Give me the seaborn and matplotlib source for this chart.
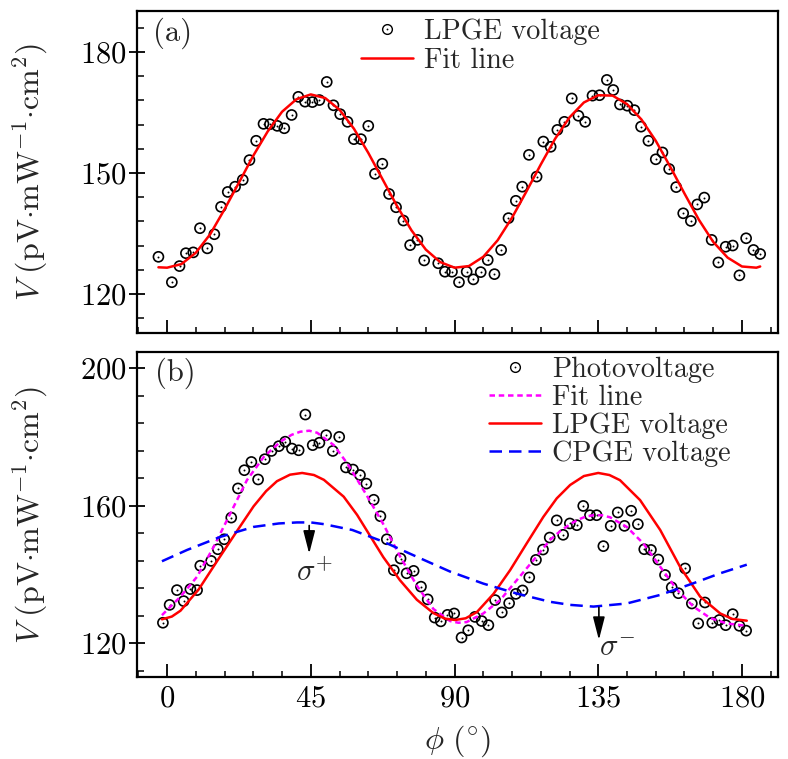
import matplotlib
matplotlib.use('Agg')
import matplotlib.pyplot as plt
from matplotlib.lines import Line2D
from matplotlib.ticker import MultipleLocator
import seaborn as sns

# ---- (a) LPGE voltage: measured points and fit line ----
lp_phi = [-2.7, 1.5, 3.9, 5.9, 8.2, 10.3, 12.6, 14.8, 16.9, 19.0,
          21.3, 23.7, 25.8, 27.9, 30.2, 32.2, 34.5, 36.7, 39.0, 41.1,
          43.2, 45.5, 47.7, 50.0, 52.1, 54.2, 56.5, 58.5, 60.7, 63.0,
          65.1, 67.4, 69.5, 71.7, 74.0, 76.1, 78.4, 80.5, 84.9, 87.0,
          89.2, 91.4, 93.8, 95.9, 98.2, 100.4, 102.5, 104.6, 106.9, 109.2,
          111.2, 113.3, 115.7, 117.8, 120.1, 122.2, 124.4, 126.7, 128.8, 130.9,
          133.2, 135.4, 137.7, 139.7, 141.8, 144.1, 146.3, 148.4, 150.7, 153.0,
          155.1, 157.2, 159.4, 161.6, 164.0, 166.0, 168.2, 170.5, 172.6, 174.9,
          177.1, 179.2, 181.3, 183.6, 185.7]
lp_v = [129.2, 122.9, 126.9, 130.1, 130.3, 136.3, 131.3, 134.8, 141.6, 145.3,
        146.6, 148.3, 153.2, 158.0, 162.2, 162.1, 161.7, 161.1, 164.4, 168.9,
        167.7, 167.6, 168.1, 172.6, 166.8, 164.6, 162.7, 158.4, 158.4, 161.7,
        149.8, 152.3, 144.8, 141.5, 138.2, 132.1, 133.4, 128.3, 127.6, 125.5,
        125.5, 122.9, 125.5, 123.6, 125.4, 128.4, 124.9, 130.9, 138.8, 143.1,
        146.6, 154.5, 149.1, 157.8, 156.5, 160.7, 162.7, 168.5, 164.2, 162.7,
        169.2, 169.3, 173.1, 170.6, 167.0, 166.7, 165.6, 161.5, 158.0, 153.4,
        155.1, 151.0, 146.5, 140.0, 138.1, 142.2, 143.9, 133.4, 127.8, 131.7,
        132.0, 124.6, 133.8, 130.9, 129.9]

lp_fit_phi = [-2.7, 0, 4.5, 9, 13.5, 18, 22.5, 27, 31.5, 36, 40.5, 45,
              49.5, 54, 58.5, 63, 67.5, 72, 76.5, 81, 85.5, 90,
              94.5, 99, 103.5, 108, 112.5, 117, 121.5, 126, 130.5, 135,
              139.5, 144, 148.5, 153, 157.5, 162, 166.5, 171, 175.5, 180,
              184.5, 185.7]
lp_fit_v = [126.6, 126.5, 127.4, 130.2, 134.8, 141.0, 147.6, 154.3, 160.3, 165.2, 168.3, 169.5,
            168.6, 165.7, 161.0, 155.0, 148.4, 141.8, 135.8, 131.0, 127.9, 126.5,
            126.9, 129.2, 133.3, 138.9, 145.4, 152.1, 158.5, 163.8, 167.5, 169.3,
            169.2, 167.1, 163.3, 158.0, 151.6, 144.9, 138.4, 132.9, 129.0, 126.8,
            126.5, 126.8]

# ---- (b) photovoltage with fit and its two components ----
pv_phi = [-1.3, 0.8, 3.1, 5.2, 7.3, 9.4, 10.4, 13.8, 15.9, 17.9,
          20.1, 22.2, 24.2, 26.4, 28.5, 30.6, 32.7, 35.0, 37.0, 39.1,
          41.2, 43.3, 45.6, 47.7, 49.8, 51.9, 53.9, 56.0, 58.2, 60.4,
          62.4, 64.7, 66.8, 68.8, 71.0, 73.1, 75.0, 77.2, 79.5, 81.6,
          83.8, 85.7, 87.8, 89.9, 92.2, 94.3, 96.4, 98.5, 100.6, 102.7,
          104.8, 107.1, 109.2, 111.3, 113.4, 115.5, 117.7, 119.8, 122.0, 124.0,
          126.1, 128.3, 130.3, 132.4, 134.5, 136.6, 138.9, 141.1, 143.2, 145.3,
          147.4, 149.4, 151.5, 153.8, 155.9, 158.0, 160.1, 162.2, 164.3, 166.3,
          168.4, 170.7, 172.9, 174.9, 177.1, 179.2, 181.3]
pv_v = [125.9, 131.1, 135.4, 132.2, 135.7, 135.4, 142.5, 143.9, 147.3, 150.2,
        156.5, 165.0, 170.3, 172.7, 167.6, 173.5, 175.9, 177.3, 178.6, 176.6,
        176.1, 186.5, 177.6, 178.3, 180.5, 175.9, 180.0, 171.1, 170.5, 168.9,
        166.4, 161.7, 156.9, 150.2, 141.2, 144.6, 140.3, 141.0, 136.4, 132.7,
        127.4, 126.3, 128.2, 128.6, 121.6, 123.7, 127.6, 126.4, 125.2, 132.5,
        128.9, 131.6, 134.3, 135.3, 139.1, 144.2, 147.2, 150.7, 155.7, 151.5,
        154.8, 154.3, 159.9, 157.2, 157.2, 148.2, 154.1, 158.0, 154.1, 158.5,
        154.6, 147.3, 147.1, 144.3, 139.8, 136.2, 134.5, 141.7, 131.5, 125.7,
        131.8, 125.9, 126.7, 125.2, 128.4, 125.0, 123.6]

pv_fit_phi = [-1.6, 4.2, 9.4, 14.6, 19.8, 25.0, 30.3, 35.5, 39.0, 41.7, 44.5, 47.0,
              52.2, 56.4, 59.5, 62.5, 67.7, 72.9, 78.2, 83.4, 88.6, 91.2, 93.8,
              99.0, 104.3, 109.5, 114.7, 119.9, 123.0, 126.2, 128.3, 131.0, 133.5, 136.0,
              138.7, 143.9, 149.1, 154.4, 159.6, 164.8, 170.0, 175.2, 181.5]
pv_fit_v = [128.1, 133.5, 139.3, 148.0, 157.7, 167.4, 174.2, 178.6, 180.6, 181.5, 181.8, 181.2,
            177.6, 172.3, 167.6, 163.0, 154.6, 145.3, 136.7, 129.9, 126.4, 125.9, 126.1,
            128.6, 132.5, 138.3, 144.1, 150.0, 152.5, 154.6, 155.7, 156.8, 157.2, 157.2,
            156.6, 153.8, 149.0, 142.2, 135.6, 130.6, 127.3, 125.7, 125.0]

lpge_phi = [-1.6, 1.5, 4.2, 9.9, 15.7, 21.9, 27.1, 31.0, 34.4, 38.5, 42.3, 46.0,
            49.1, 55.3, 59.5, 62.5, 67.7, 72.9, 78.2, 83.4, 87.0, 90.2, 93.5,
            97.0, 102.2, 107.4, 112.6, 117.8, 122.0, 126.2, 130.5, 135.0, 138.5,
            141.8, 148.1, 154.4, 160.6, 166.9, 173.2, 177.0, 181.5]
lpge_v = [126.9, 127.7, 129.4, 135.6, 143.9, 152.6, 159.8, 164.2, 167.1, 169.0, 169.5, 168.9,
          167.5, 162.6, 157.3, 152.8, 145.0, 138.3, 132.6, 128.7, 127.1, 126.7, 127.2,
          129.0, 134.3, 141.2, 149.0, 156.7, 162.1, 166.0, 168.6, 169.5, 168.9,
          167.4, 161.6, 152.9, 142.2, 133.5, 128.6, 127.0, 126.5]

cpge_phi = [-1.6, 6.3, 16.7, 27.1, 35.0, 40.7, 45.0, 49.1, 58.0, 67.7, 78.2, 88.6,
            99.0, 109.5, 119.9, 126.2, 133.5, 143.9, 154.4, 164.8, 173.2, 181.5]
cpge_v = [143.8, 147.1, 150.9, 153.8, 154.8, 155.1, 155.1, 154.6, 152.9, 149.5, 145.1, 140.8,
          137.3, 134.4, 132.0, 131.1, 130.6, 131.5, 134.0, 137.4, 140.3, 142.8]

PHI_TICKS = [0, 45, 90, 135, 180]

sns.set_theme(style='ticks')
plt.rcParams.update({
    'font.family': 'serif',
    'font.serif': ['cmr10', 'DejaVu Serif'],
    'mathtext.fontset': 'cm',
    'axes.formatter.use_mathtext': True,
    'axes.linewidth': 1.5,
    'axes.edgecolor': 'black',
    'xtick.color': 'black',
    'ytick.color': 'black',
})

fig = plt.figure(figsize=(7.88, 7.59), dpi=100)
ax1 = fig.add_axes([0.1739, 0.5613, 0.8135, 0.4242])
ax2 = fig.add_axes([0.1739, 0.1080, 0.8135, 0.4282])

circ_kw = dict(marker='o', s=52, linewidth=1.2, legend=False)
dot_kw = dict(marker='o', s=2, color='black', linewidth=0, legend=False)


def draw_points(ax, x, y):
    sns.scatterplot(x=x, y=y, ax=ax, color='black', **circ_kw)
    ax.collections[-1].set_facecolor('none')
    ax.collections[-1].set_edgecolor('black')
    sns.scatterplot(x=x, y=y, ax=ax, **dot_kw)


# panel (a)
draw_points(ax1, lp_phi, lp_v)
sns.lineplot(x=lp_fit_phi, y=lp_fit_v, ax=ax1, color='#ff0000', lw=1.8,
             sort=False, estimator=None)

# panel (b)
draw_points(ax2, pv_phi, pv_v)
sns.lineplot(x=pv_fit_phi, y=pv_fit_v, ax=ax2, color='#ff00ff', lw=1.8,
             sort=False, estimator=None, linestyle=(0, (2.2, 1.5)))
sns.lineplot(x=lpge_phi, y=lpge_v, ax=ax2, color='#ff0000', lw=1.8,
             sort=False, estimator=None)
sns.lineplot(x=cpge_phi, y=cpge_v, ax=ax2, color='#0000ff', lw=1.8,
             sort=False, estimator=None, linestyle=(0, (5, 2.8)))

# circular polarisation markers
arrow = dict(arrowstyle='-|>,head_length=0.7,head_width=0.18', color='black',
             lw=1.2, shrinkA=0, shrinkB=0, mutation_scale=20)
ax2.annotate('', xy=(44.5, 146.0), xytext=(44.5, 154.2), arrowprops=arrow)
ax2.annotate('', xy=(135.2, 120.9), xytext=(135.2, 130.4), arrowprops=arrow)
ax2.text(46.0, 140.6, r'$\sigma^{+}$', fontsize=22, ha='center', va='center')
ax2.text(141.0, 118.6, r'$\sigma^{-}$', fontsize=22, ha='center', va='center')

# axes styling
for ax in (ax1, ax2):
    ax.set_xlim(-9.4, 191.3)
    ax.set_xticks(PHI_TICKS)
    ax.xaxis.set_minor_locator(MultipleLocator(9))
    ax.tick_params(axis='x', which='major', direction='in', length=9.5, width=1.3,
                   labelsize=22, pad=6, top=False)
    ax.tick_params(axis='x', which='minor', direction='in', length=4.5, width=1.1, top=False)
    ax.tick_params(axis='y', which='major', direction='inout', length=11, width=1.3,
                   labelsize=22, pad=2, right=False)
    ax.tick_params(axis='y', which='minor', direction='in', length=5, width=1.1, right=False)
    ax.grid(False)
    for sp in ax.spines.values():
        sp.set_visible(True)
        sp.set_linewidth(1.6)

ax1.set_ylim(110.3, 190.2)
ax1.set_yticks([120, 150, 180])
ax1.yaxis.set_minor_locator(MultipleLocator(6))
ax1.tick_params(labelbottom=False)

ax2.set_ylim(110.1, 204.7)
ax2.set_yticks([120, 160, 200])
ax2.yaxis.set_minor_locator(MultipleLocator(8))

ylab = r'$V\ (\mathrm{pV{\cdot}mW^{-1}{\cdot}cm^{2}})$'
for ax in (ax1, ax2):
    ax.set_ylabel(ylab, fontsize=23)
    ax.yaxis.set_label_coords(-0.136, 0.5)
ax1.set_xlabel('')
ax2.set_xlabel(r'$\phi\ (^{\circ})$', fontsize=23, labelpad=8)

ax1.text(0.025, 0.981, '(a)', transform=ax1.transAxes, fontsize=22, ha='left', va='top')
ax2.text(0.028, 0.982, '(b)', transform=ax2.transAxes, fontsize=22, ha='left', va='top')


# legends
def pt_handle():
    ring = Line2D([], [], ls='none', marker='o', ms=7, mfc='none', mec='black', mew=1.0)
    dot = Line2D([], [], ls='none', marker='o', ms=1.3, mfc='black', mec='black', mew=0)
    return (ring, dot)


leg_kw = dict(frameon=False, fontsize=20.3, handlelength=1.85, handletextpad=0.4,
              borderpad=0, borderaxespad=0, loc='upper left')
ax1.legend([pt_handle(), Line2D([], [], color='#ff0000', lw=1.8)],
           ['LPGE voltage', 'Fit line'], bbox_to_anchor=(0.349, 0.978),
           labelspacing=0.12, **leg_kw)
ax2.legend([pt_handle(),
            Line2D([], [], color='#ff00ff', lw=1.8, ls=(0, (2.2, 1.5))),
            Line2D([], [], color='#ff0000', lw=1.8),
            Line2D([], [], color='#0000ff', lw=1.8, ls=(0, (5, 2.8)))],
           ['Photovoltage', 'Fit line', 'LPGE voltage', 'CPGE voltage'],
           bbox_to_anchor=(0.549, 0.985), labelspacing=0.05, **leg_kw)

fig.savefig('out.png', dpi=100)
